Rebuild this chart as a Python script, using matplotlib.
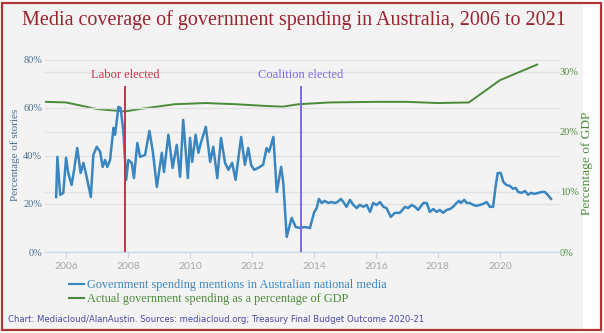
import matplotlib.pyplot as plt
import matplotlib.patches as patches
from matplotlib.lines import Line2D

# media share of stories (%), decimal years
media_year = [2005.68, 2005.72, 2005.81, 2005.91, 2006.00, 2006.07, 2006.18, 2006.26, 2006.36, 2006.47,
              2006.56, 2006.65, 2006.80, 2006.88, 2006.99, 2007.10, 2007.18, 2007.26, 2007.33, 2007.42,
              2007.53, 2007.58, 2007.69, 2007.76, 2007.85, 2007.94, 2008.01, 2008.12, 2008.19, 2008.30,
              2008.39, 2008.55, 2008.69, 2008.80, 2008.93, 2009.09, 2009.16, 2009.30, 2009.44, 2009.57,
              2009.68, 2009.78, 2009.93, 2010.00, 2010.07, 2010.18, 2010.27, 2010.35, 2010.51, 2010.65,
              2010.75, 2010.88, 2011.00, 2011.13, 2011.24, 2011.36, 2011.47, 2011.65, 2011.77, 2011.88,
              2011.97, 2012.07, 2012.20, 2012.36, 2012.47, 2012.55, 2012.69, 2012.80, 2012.94, 2013.01,
              2013.12, 2013.28, 2013.41, 2013.55, 2013.69, 2013.87, 2014.01, 2014.09, 2014.16, 2014.25,
              2014.35, 2014.46, 2014.57, 2014.68, 2014.76, 2014.87, 2014.95, 2015.05, 2015.16, 2015.27,
              2015.38, 2015.48, 2015.59, 2015.70, 2015.81, 2015.91, 2016.02, 2016.13, 2016.24, 2016.34,
              2016.48, 2016.61, 2016.77, 2016.94, 2017.04, 2017.15, 2017.26, 2017.36, 2017.53, 2017.64,
              2017.74, 2017.85, 2017.96, 2018.06, 2018.17, 2018.28, 2018.39, 2018.49, 2018.60, 2018.68,
              2018.74, 2018.85, 2018.93, 2019.03, 2019.14, 2019.25, 2019.35, 2019.46, 2019.57, 2019.68,
              2019.78, 2019.86, 2019.93, 2020.03, 2020.11, 2020.21, 2020.32, 2020.43, 2020.51, 2020.59,
              2020.70, 2020.81, 2020.91, 2021.00, 2021.11, 2021.24, 2021.35, 2021.45, 2021.54, 2021.65]
media_pct = [22.9, 39.6, 23.8, 24.6, 39.2, 32.9, 27.9, 34.2, 43.3, 32.9,
             37.1, 32.1, 22.9, 40.4, 43.8, 41.7, 35.4, 38.3, 35.4, 38.3,
             51.7, 48.8, 60.4, 60.0, 50.0, 30.0, 38.3, 37.1, 30.8, 45.4,
             39.6, 40.4, 50.4, 41.7, 27.1, 41.3, 33.3, 48.8, 35.0, 44.6,
             31.3, 55.0, 30.8, 47.5, 37.5, 48.8, 41.3, 45.4, 52.1, 37.5,
             43.8, 30.8, 47.5, 37.1, 34.2, 37.1, 30.0, 47.9, 36.3, 43.3,
             36.3, 34.2, 35.0, 36.3, 43.3, 41.7, 47.9, 25.0, 35.4, 28.8,
             6.3, 14.2, 10.4, 10.0, 10.4, 10.0, 16.7, 18.3, 22.1, 20.4,
             21.3, 20.4, 20.8, 20.4, 20.8, 22.1, 20.8, 18.8, 21.7, 19.6,
             18.3, 19.6, 18.8, 19.6, 16.7, 20.4, 19.6, 20.8, 18.8, 18.3,
             14.6, 16.3, 16.3, 18.8, 18.3, 19.6, 18.8, 17.5, 20.4, 20.4,
             16.7, 17.9, 16.7, 17.5, 16.3, 17.5, 17.9, 18.8, 20.4, 21.3,
             20.4, 21.7, 20.4, 20.4, 19.6, 19.2, 19.6, 20.0, 20.8, 18.8,
             18.8, 27.1, 32.9, 32.9, 29.2, 27.9, 27.5, 26.3, 26.7, 25.0,
             24.6, 25.4, 23.8, 24.6, 24.2, 24.6, 25.0, 25.0, 23.8, 22.1]

# government spending as % of GDP
gdp_year = [2005.32, 2006.0, 2007.0, 2007.9, 2008.5, 2009.5, 2010.5, 2011.5, 2012.5, 2013.0,
            2013.5, 2014.5, 2016.0, 2017.0, 2018.0, 2019.0, 2020.0, 2021.2]
gdp_pct = [25.0, 24.9, 23.8, 23.4, 23.9, 24.6, 24.8, 24.6, 24.3, 24.2,
           24.6, 24.9, 25.0, 25.0, 24.8, 24.9, 28.6, 31.2]

elections = [(2007.9, 'Labor elected', '#c8324a'), (2013.57, 'Coalition elected', '#7a6ae0')]

year_ticks = [2006, 2008, 2010, 2012, 2014, 2016, 2018, 2020]
left_ticks = [0, 20, 40, 60, 80]
right_ticks = [0, 10, 20, 30]

blue = '#3a86c0'
green = '#4a8a3a'
serif = 'Liberation Serif'

fig = plt.figure(figsize=(6.04, 3.33), dpi=100)
fig.patch.set_facecolor('white')
# grey panel and red border
fig.add_artist(patches.Rectangle((3/604, 3/333), 580/604, 327/333, transform=fig.transFigure,
                                 facecolor='#f3f3f3', edgecolor='none', zorder=-2))
fig.add_artist(patches.Rectangle((2/604, 3/333), 599/604, 327/333, transform=fig.transFigure,
                                 facecolor='none', edgecolor='#b03535', linewidth=1.6, zorder=5))

ax = fig.add_axes([45/604, (333-252)/333, 515/604, 197/333])
ax2 = ax.twinx()
ax.set_zorder(ax2.get_zorder() + 1)
ax.patch.set_visible(False)
ax2.patch.set_visible(False)

ax.set_xlim(2005.32, 2021.94)
ax.set_ylim(0, 82)
ax2.set_ylim(0, 32.8)

ax2.plot(gdp_year, gdp_pct, color=green, lw=1.4)
ax.plot(media_year, media_pct, color=blue, lw=1.8, solid_joinstyle='round')

for yr, name, col in elections:
    ax.plot([yr, yr], [0, 68.8], color=col, lw=1.4)
    ax.text(yr, 71, name, color=col, ha='center', va='bottom', fontsize=9, family=serif)

ax.set_xticks(year_ticks)
ax.set_xticklabels([str(y) for y in year_ticks], color='#a8a8a8', fontsize=7.5, family='Lato')
ax.set_yticks(left_ticks)
ax.set_yticklabels([f'{v}%' for v in left_ticks], color='#4a6e90', fontsize=7.5, family=serif)
ax2.set_yticks(right_ticks)
ax2.set_yticklabels([f'{v}%' for v in right_ticks], color=green, fontsize=7.5, family=serif)

ax.grid(axis='y', color='#e2e2e2', lw=1)
ax2.grid(axis='y', color='#e2e2e2', lw=1)
ax.tick_params(axis='y', length=0, pad=2)
ax2.tick_params(axis='y', length=0, pad=0)
ax.tick_params(axis='x', length=4, color='#c8d8ec', pad=3)
for a in (ax, ax2):
    for s in a.spines.values():
        s.set_visible(False)
ax.spines['bottom'].set_visible(True)
ax.spines['bottom'].set_color('#c8d8ec')

fig.text(22/604, 1 - 20/333, 'Media coverage of government spending in Australia, 2006 to 2021',
         color='#9b2430', fontsize=14.5, family=serif, va='center', ha='left')
fig.text(15/604, 1 - 155/333, 'Percentage of stories', rotation=90, color='#4a6e90',
         fontsize=7.9, family=serif, ha='center', va='center')
fig.text(587/604, 1 - 163/333, 'Percentage of GDP', rotation=90, color=green,
         fontsize=9.6, family=serif, ha='center', va='center')

handles = [Line2D([], [], color=blue, lw=1.5), Line2D([], [], color=green, lw=1.5)]
leg = fig.legend(handles, ['Government spending mentions in Australian national media',
                           'Actual government spending as a percentage of GDP'],
                 loc='upper left', bbox_to_anchor=(58/604, 1 - 268/333), frameon=False,
                 handlelength=1.2, handletextpad=0.25, labelspacing=0.2,
                 prop={'family': serif, 'size': 8.8})
for txt, col in zip(leg.get_texts(), [blue, green]):
    txt.set_color(col)

fig.text(8/604, 1 - 320/333,
         'Chart: Mediacloud/AlanAustin. Sources: mediacloud.org; Treasury Final Budget Outcome 2020-21',
         color='#4a48a8', fontsize=6.1, family='DejaVu Sans', va='center', ha='left')

fig.savefig('out.png', dpi=100)
